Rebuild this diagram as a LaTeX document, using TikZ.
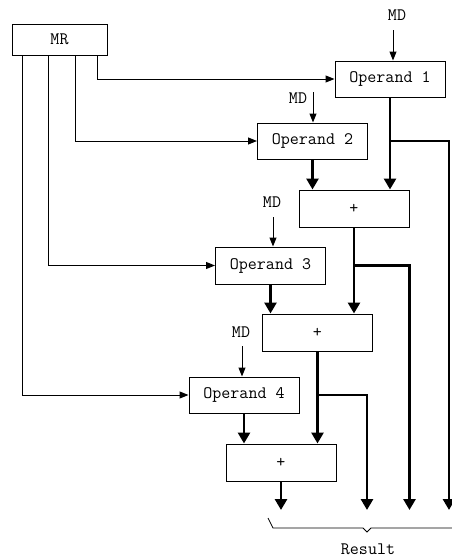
\documentclass[tikz,border=0pt]{standalone}
\usepackage{fontspec}
\usetikzlibrary{arrows.meta}

\begin{document}
\begin{tikzpicture}[x=1pt, y=-1pt, every node/.style={font=\ttfamily\fontsize{17.5}{20}\selectfont, inner sep=0pt}, unit/.style={rectangle, draw, line width=1pt, minimum width=110pt, minimum height=36pt}, thinarr/.style={line width=1pt, -{Triangle[length=9pt, width=7pt]}}, thickarr/.style={line width=2.8pt, -{Triangle[length=11pt, width=12pt]}}]

\useasboundingbox (0,0) rectangle (452,557);

\node[unit, minimum width=95pt, minimum height=31pt] (mr) at (59.5,39.5) {MR};
\node[unit] (op1) at (390,79) {Operand 1};
\node[unit] (op2) at (312.5,141) {Operand 2};
\node[unit, minimum height=37pt] (plus1) at (354,208.5) {+};
\node[unit, minimum height=37pt] (op3) at (270.5,265.5) {Operand 3};
\node[unit, minimum height=37pt] (plus2) at (317.5,332.5) {+};
\node[unit] (op4) at (244,395) {Operand 4};
\node[unit, minimum height=37pt] (plus3) at (281,462.5) {+};

\node (md1) at (397,15) {MD};
\node (md2) at (298,98) {MD};
\node (md3) at (272,202) {MD};
\node (md4) at (241,332) {MD};
\node (result) at (368,549) {Result};

\coordinate (md1s) at (393,30);
\coordinate (md2s) at (313,92);
\coordinate (md3s) at (273,217);
\coordinate (md4s) at (242,346);
\coordinate (r1) at (449,510);
\coordinate (r3) at (367,510);

\draw[thinarr] (md1s) -- (md1s |- op1.north);
\draw[thinarr] (md2s) -- (md2s |- op2.north);
\draw[thinarr] (md3s) -- (md3s |- op3.north);
\draw[thinarr] (md4s) -- (md4s |- op4.north);

\draw[thinarr] ([xshift=-10pt]mr.south east) |- (op1.west);
\draw[thinarr] ([xshift=64pt]mr.south west) |- (op2.west);
\draw[thinarr] ([xshift=37pt]mr.south west) |- (op3.west);
\draw[thinarr] ([xshift=11pt]mr.south west) |- (op4.west);

\draw[thickarr] (op1.south) -- (op1.south |- plus1.north);
\draw[thickarr] (op2.south) -- (op2.south |- plus1.north);
\draw[thickarr] (op1.south |- op2.east) -| (r1);
\draw[thickarr] (plus1.south) -- (plus1.south |- plus2.north);
\draw[thickarr] (plus1.south |- op3.east) -| (plus1.east |- r1);
\draw[thickarr] (op3.south) -- (op3.south |- plus2.north);
\draw[thickarr] (plus2.south) -- (plus2.south |- plus3.north);
\draw[thickarr] (plus2.south |- op4.east) -| (r3);
\draw[thickarr] (op4.south) -- (op4.south |- plus3.north);
\draw[thickarr] (plus3.south) -- (plus3.south |- r1);

\draw[line width=0.8pt] (268,518) -- (273,528) -- (363,528) -- (367,532) -- (371,528) -- (452,528);

\end{tikzpicture}
\end{document}
